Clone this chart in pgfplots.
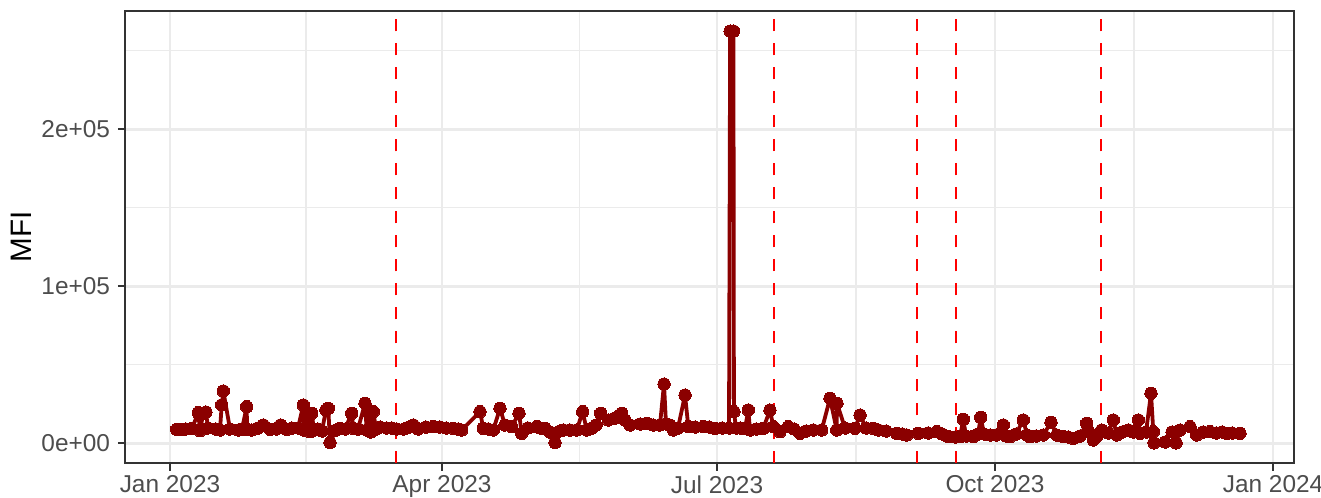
\documentclass[border=0pt]{standalone}
\usepackage{pgfplots}
\pgfplotsset{compat=1.18}
\usepackage{fontspec}
\setmainfont{Liberation Sans}
\definecolor{dr}{HTML}{8B0000}
\definecolor{gridc}{HTML}{EBEBEB}
\definecolor{axc}{HTML}{333333}
\definecolor{tickc}{HTML}{4D4D4D}
\begin{document}
\begin{tikzpicture}
\useasboundingbox (-62.5bp,-17.35bp) rectangle (598bp,231.65bp);
\begin{axis}[
  scale only axis, width=584.5bp, height=226.15bp,
  xmin=-14.89, xmax=371.94, ymin=-12740, ymax=275400,
  axis line style={color=axc, line width=1.1bp},
  tick pos=left, tick align=outside,
  major tick length=3.6bp, minor tick length=0pt,
  tick style={color=axc, line width=1.1bp},
  xtick={0,90,181,273,365},
  xticklabels={Jan 2023,Apr 2023,Jul 2023,Oct 2023,Jan 2024},
  minor xtick={45,135.5,227,319},
  ytick={0,100000,200000},
  yticklabels={0e+00,1e+05,2e+05},
  minor ytick={50000,150000,250000},
  scaled ticks=false,
  grid=both,
  major grid style={color=gridc, line width=1.2bp},
  minor grid style={color=gridc, line width=0.6bp},
  ticklabel style={font=\fontsize{12.2bp}{14bp}\selectfont, text=tickc},
  xticklabel style={inner sep=0pt, yshift=-2.5bp},
  yticklabel style={inner sep=0pt, xshift=-3.7bp},
  ylabel={MFI},
  ylabel style={font=\fontsize{14.8bp}{17bp}\selectfont, text=black, inner sep=0pt,
    at={(axis description cs:-0.0797,0.5)}, anchor=south},
  clip=false,
]
\addplot[color=dr, line width=1.9bp, line join=round, line cap=round, mark=*, mark size=3.1bp,
  mark options={fill=dr, draw=dr, line width=0pt}] table {
x y
2.22 8918
3.64 8918
5.29 9109
7.28 9428
9.36 19492
9.93 8026
11.02 19110
11.91 19938
12.57 9746
15.22 9109
16.55 8472
17.11 24397
17.64 33315
19.85 9109
22.60 8472
23.83 9109
25.38 23314
25.50 8918
27.04 8472
29.12 9746
30.87 11657
33.09 8918
35.08 9109
36.63 11657
38.62 8918
40.37 9746
42.36 9746
44.11 24397
44.20 8472
45.24 19110
46.33 7389
46.89 19110
47.65 8472
48.97 9109
50.30 7835
51.60 21212
52.38 22295
52.95 500
54.93 8472
56.25 9555
57.91 9109
60.13 19110
60.66 9555
62.21 9109
64.53 25480
65.09 8472
65.85 19301
66.50 7198
67.27 20129
68.17 9109
69.49 10383
71.71 9746
73.46 9746
75.02 9109
77.43 9109
79.09 10383
80.51 11657
82.07 9109
84.71 10383
87.13 10574
89.34 10383
91.33 9746
93.75 9555
95.30 9109
96.53 8472
102.58 20129
103.67 9555
105.23 9109
106.98 8472
109.20 22295
110.85 11657
113.07 10574
115.49 19110
116.38 6370
118.46 9746
121.34 10574
122.44 9746
124.09 9555
125.74 7198
127.40 500
129.05 7835
130.15 8472
132.36 8472
134.58 8472
136.57 20129
137.89 8472
139.64 9746
140.97 11657
142.52 19110
145.04 14842
147.25 16116
149.47 19110
150.56 14842
152.22 11657
155.53 12294
157.74 12740
159.83 11657
162.14 11657
163.47 37774
164.13 12294
165.45 11657
166.55 8472
168.10 9746
170.42 30767
171.51 10574
173.73 10383
176.48 10574
178.36 10383
180.35 9555
182.66 9746
184.98 9746
185.35 262600
186.45 262600
186.60 20129
187.30 9746
188.62 9746
190.27 9428
191.36 21212
191.93 8472
193.91 9109
196.33 9555
198.54 21212
199.64 10574
201.85 7389
204.60 10574
206.49 9109
208.47 6370
210.46 7835
212.87 8472
215.65 8472
218.40 28665
220.62 8472
220.70 25480
223.36 9746
226.67 9555
228.33 18027
230.31 9746
232.73 9555
234.38 8472
236.93 7835
240.47 6370
242.22 5924
243.78 5287
247.62 6370
250.83 6561
253.71 7389
255.46 5924
257.55 4204
259.76 4013
261.42 4204
262.51 15288
263.40 4650
265.82 4204
267.37 5924
268.27 16562
269.36 5924
271.34 5287
273.33 5287
275.74 11657
276.64 4650
277.96 4204
279.95 5924
282.36 14842
283.59 5287
284.58 4204
286.57 4650
288.98 5287
291.53 13377
293.42 5287
295.60 4204
297.15 4013
298.91 3185
301.12 4650
303.34 12740
304.10 7198
305.53 2102
306.75 4650
308.31 8472
310.39 6561
312.15 14842
313.27 5287
315.02 7198
317.11 8472
318.66 7198
320.42 14842
320.98 6370
322.97 7198
324.62 31850
325.38 7389
325.60 300
329.25 828
331.57 7198
332.90 300
334.22 8472
337.53 10574
339.75 5287
341.83 7198
344.14 7389
346.13 6561
348.11 7198
349.67 6370
351.42 6561
354.07 6370
};
\addplot[color=red, line width=1.2bp, dash pattern=on 6bp off 6bp] coordinates {(74.8,-12740) (74.8,275400)};
\addplot[color=red, line width=1.2bp, dash pattern=on 6bp off 6bp] coordinates {(199.9,-12740) (199.9,275400)};
\addplot[color=red, line width=1.2bp, dash pattern=on 6bp off 6bp] coordinates {(247.1,-12740) (247.1,275400)};
\addplot[color=red, line width=1.2bp, dash pattern=on 6bp off 6bp] coordinates {(260.0,-12740) (260.0,275400)};
\addplot[color=red, line width=1.2bp, dash pattern=on 6bp off 6bp] coordinates {(308.1,-12740) (308.1,275400)};
\end{axis}
\end{tikzpicture}
\end{document}
